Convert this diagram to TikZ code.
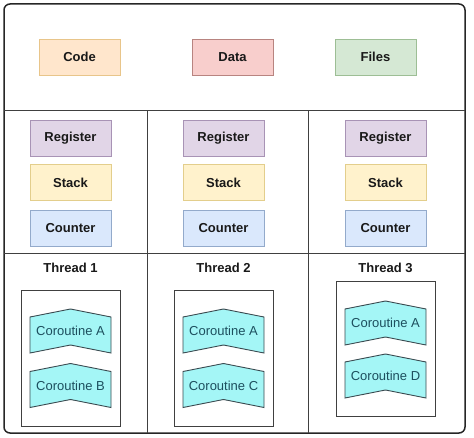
\documentclass[tikz,border=0pt]{standalone}
\usepackage{fontspec}
\setmainfont{Liberation Sans}
\definecolor{codefill}{HTML}{FFE6CC}\definecolor{codeline}{HTML}{E8C58A}
\definecolor{datafill}{HTML}{F8CECC}\definecolor{dataline}{HTML}{B88480}
\definecolor{filefill}{HTML}{D5E8D4}\definecolor{fileline}{HTML}{9DBE95}
\definecolor{regfill}{HTML}{E1D5E7}\definecolor{regline}{HTML}{A893B5}
\definecolor{stkfill}{HTML}{FFF2CC}\definecolor{stkline}{HTML}{E3CE8C}
\definecolor{cntfill}{HTML}{DAE8FC}\definecolor{cntline}{HTML}{93AACB}
\definecolor{corfill}{HTML}{A4F6F6}\definecolor{corline}{HTML}{3A4A50}
\definecolor{cortext}{HTML}{1D4F5E}
\begin{document}
\begin{tikzpicture}[x=1pt,y=-1pt,
    every node/.style={font=\fontsize{13}{15}\selectfont,text=black!90},
    res/.style={draw,line width=.9pt,minimum width=81pt,minimum height=36pt,inner sep=0pt,
        font=\fontsize{13}{15}\selectfont\bfseries},
    cotext/.style={text=cortext,inner sep=0pt}]
    \useasboundingbox (0,0) rectangle (474,438);
    % process frame
    \draw[line width=1.5pt,black!85,rounded corners=6pt] (4,4) rectangle (465,433);
    \draw[line width=1pt,black!75] (4,111) -- (465,111);
    \draw[line width=1pt,black!75] (4,254) -- (465,254);
    \draw[line width=1pt,black!75] (147,111) -- (147,433);
    \draw[line width=1pt,black!75] (308,111) -- (308,433);
    % shared resources
    \node[res,fill=codefill,draw=codeline] (code) at (79.5,57) {Code};
    \node[res,fill=datafill,draw=dataline] (data) at (232.5,57) {Data};
    \node[res,fill=filefill,draw=fileline] (files) at (375.5,57) {Files};
    % per thread resources
    \foreach \cx/\n in {70.5/1,223.5/2,385.5/3}{
        \node[res,fill=regfill,draw=regline] (reg\n) at (\cx,138) {Register};
        \node[res,fill=stkfill,draw=stkline] (stack\n) at (\cx,182.5) {Stack};
        \node[res,fill=cntfill,draw=cntline] (counter\n) at (\cx,228) {Counter};
        \node[font=\fontsize{13}{15}\selectfont\bfseries] (thread\n) at (\cx,268) {Thread \n};
    }
    \draw[line width=1pt,black!75] (21,291) rectangle (120,426);
    \draw[line width=1pt,black!75] (174,291) rectangle (273,426);
    \draw[line width=1pt,black!75] (336,282) rectangle (435,416);
    % coroutines
    \foreach \cx/\cy/\lab/\n in {70.5/335/A/1a,70.5/389.5/B/1b,223.5/335/A/2a,
        223.5/389.5/C/2c,385.5/327/A/3a,385.5/380/D/3d}{
        \begin{scope}[shift={(\cx,\cy)}]
            \draw[fill=corfill,draw=corline,line width=.9pt]
                (-40.5,-18) -- (0,-26) -- (40.5,-18) -- (40.5,18) -- (0,10) -- (-40.5,18) -- cycle;
        \end{scope}
        \node[cotext] (co\n) at (\cx,\cy-4) {Coroutine \lab};
    }
\end{tikzpicture}
\end{document}
